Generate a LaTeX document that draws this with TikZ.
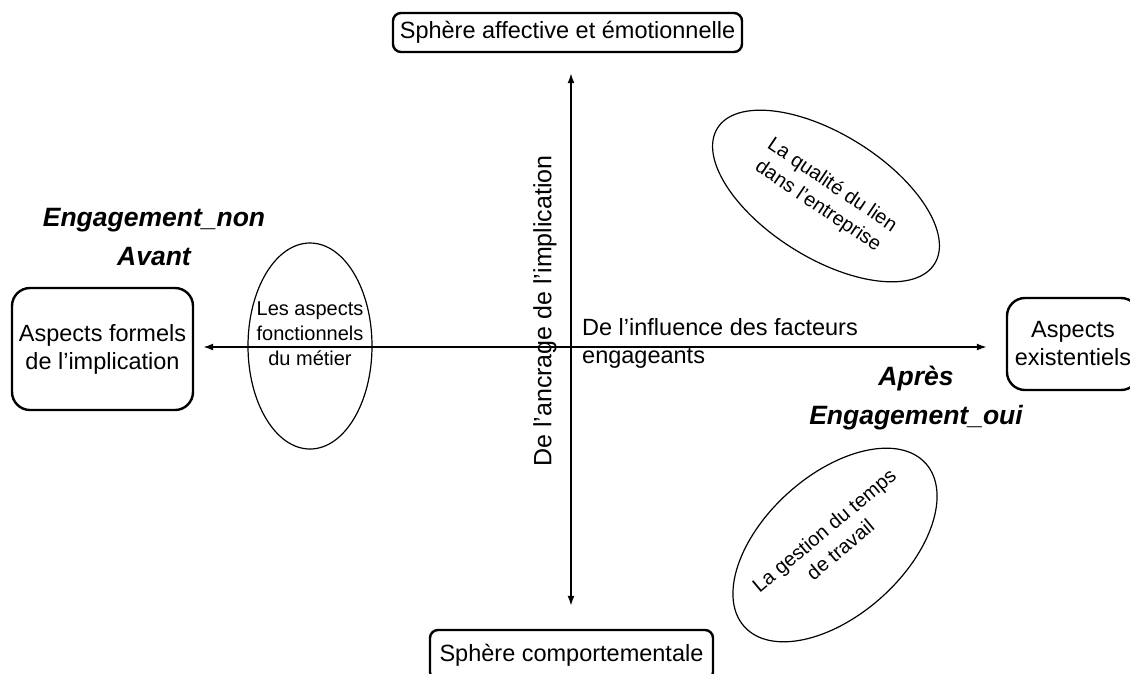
\documentclass[tikz,border=0pt]{standalone}
\usepackage{fontspec}
\setmainfont{Liberation Sans}
\usetikzlibrary{shapes.geometric,arrows.meta}
\begin{document}
\begin{tikzpicture}[x=1pt,y=-1pt,
 box/.style={draw,line width=2.4pt,align=center,inner sep=0pt,font=\fontsize{23.5}{28}\selectfont},
 oval/.style={draw,ellipse,line width=1.2pt,inner sep=0pt},
 otext/.style={align=center,font=\fontsize{20}{25}\selectfont},
 big/.style={align=center,font=\bfseries\itshape\fontsize{26.5}{39}\selectfont},
 axis/.style={line width=1.6pt,{Latex[length=10pt,width=7pt]}-{Latex[length=10pt,width=7pt]}}]
\useasboundingbox (0,0) rectangle (1130,673);
\coordinate (O) at (571,347);
\node[box,rounded corners=8pt,minimum width=349,minimum height=39] (top) at (567.5,32.5) {Sphère affective et émotionnelle};
\node[box,rounded corners=8pt,minimum width=283,minimum height=50] (bot) at (571.5,655) {Sphère comportementale};
\node[box,rounded corners=18pt,minimum width=181,minimum height=122] (left) at (102.5,349) {Aspects formels\\de l’implication};
\node[box,rounded corners=18pt,minimum width=132,minimum height=92] (right) at (1073,344) {Aspects\\existentiels};
\draw[axis,shorten <=9pt,shorten >=19pt] (left.east |- O) -- (right.west |- O);
\draw[axis,shorten <=20pt,shorten >=23pt] (top.south -| O) -- (bot.north -| O);
\node[oval,minimum width=124,minimum height=206] (e1) at (310,346) {};
\node[otext] (t1) at (310,334) {Les aspects\\fonctionnels\\du métier};
\node[oval,minimum width=256,minimum height=124,rotate=-32] (e2) at (826,196) {};
\node[otext,rotate=-34] (t2) at (825,196) {La qualité du lien\\dans l’entreprise};
\node[oval,minimum width=244,minimum height=140,rotate=42] (e3) at (835,545) {};
\node[otext,rotate=40] (t3) at (832,540) {La gestion du temps\\de travail};
\node[big] (en) at (154,237) {Engagement\_non\\Avant};
\node[big] (eo) at (916,398) {Après\\Engagement\_oui};
\node[align=left,anchor=west,inner sep=0pt,font=\fontsize{23.5}{28}\selectfont] (hl) at (582,343) {De l’influence des facteurs\\engageants};
\node[rotate=90,inner sep=0pt,font=\fontsize{25}{30}\selectfont] (vl) at (545,311) {De l’ancrage de l’implication};
\end{tikzpicture}
\end{document}
